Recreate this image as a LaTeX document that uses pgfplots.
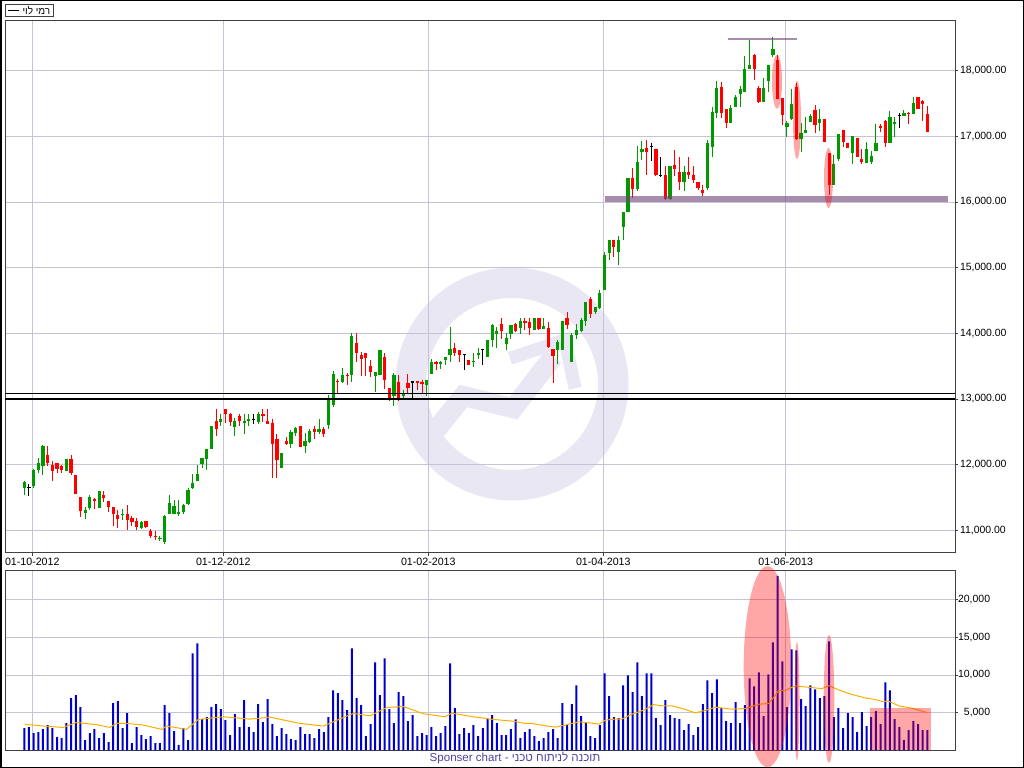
\documentclass[border=0pt]{standalone}
\usepackage{pgfplots}
\pgfplotsset{compat=1.18}
\usepackage{pgfplotstable}
\usepackage{fontspec}
\setmainfont{Liberation Sans}
\newfontfamily\hebfont[Script=Hebrew]{Liberation Sans}
\TeXXeTstate=1
\definecolor{gridc}{RGB}{198,194,216}
\definecolor{framec}{RGB}{64,64,64}
\definecolor{upc}{RGB}{0,153,0}
\definecolor{dnc}{RGB}{255,0,0}
\definecolor{volc}{RGB}{0,0,205}
\definecolor{mac}{RGB}{250,175,0}
\definecolor{wmc}{RGB}{233,231,243}
\definecolor{purp}{RGB}{115,70,120}
\definecolor{txtc}{RGB}{80,64,160}

\pgfplotstableread{
i o h l c
0 11651 11744 11538 11728
1 11651 11703 11528 11651
2 11677 11933 11651 11923
3 11913 12097 11872 12020
4 11974 12297 11836 12282
5 12154 12282 11974 12026
6 12000 12051 11744 11897
7 12026 12026 11872 11938
8 11974 12000 11872 11913
9 11908 12087 11908 12087
10 12092 12154 11836 11872
11 11841 11841 11549 11549
12 11503 11503 11205 11297
13 11256 11359 11179 11308
14 11344 11538 11308 11503
15 11477 11497 11328 11451
16 11344 11600 11344 11600
17 11538 11600 11431 11497
18 11446 11446 11282 11349
19 11354 11354 11067 11251
20 11236 11313 11036 11174
21 11231 11318 11154 11251
22 11246 11379 11010 11154
23 11185 11220 11062 11123
24 11144 11180 11010 11051
25 11036 11144 11021 11123
26 11138 11138 11036 11051
27 10990 11015 10882 10908
28 10918 10985 10846 10908
29 10877 10918 10831 10882
30 10821 11231 10785 11215
31 11251 11538 11251 11420
32 11251 11462 11246 11369
33 11251 11462 11215 11282
34 11282 11400 11250 11380
35 11400 11640 11380 11620
36 11650 11853 11624 11716
37 11751 11990 11751 11853
38 12015 12096 11954 12096
39 12081 12239 11919 12239
40 12244 12584 12234 12584
41 12660 12853 12437 12538
42 12650 12777 12589 12690
43 12853 12853 12640 12777
44 12777 12792 12589 12650
45 12574 12716 12437 12665
46 12736 12777 12589 12660
47 12635 12777 12462 12665
48 12660 12777 12589 12690
49 12690 12766 12624 12690
50 12650 12807 12624 12766
51 12766 12853 12650 12741
52 12660 12853 12624 12624
53 12635 12700 11797 12320
54 12386 12462 11797 12071
55 11949 12173 11949 12173
56 12355 12426 12294 12320
57 12310 12523 12249 12497
58 12487 12574 12437 12558
59 12584 12584 12274 12274
60 12284 12477 12183 12360
61 12345 12538 12335 12513
62 12548 12589 12386 12497
63 12497 12690 12462 12538
64 12538 12574 12426 12462
65 12610 13060 12540 12985
66 12914 13419 12880 13384
67 13268 13300 13091 13253
68 13253 13470 13242 13369
69 13369 13394 13207 13343
70 13359 14000 13253 13960
71 13848 14000 13556 13707
72 13672 13722 13343 13611
73 13697 13697 13354 13621
74 13495 13596 13333 13409
75 13354 13409 13101 13409
76 13359 13747 13359 13747
77 13636 13707 13152 13293
78 13167 13167 12965 12980
79 13051 13394 12899 13369
80 13258 13369 12965 12980
81 13045 13141 12990 13081
82 13242 13379 13091 13172
83 13258 13258 13000 13258
84 13268 13278 13141 13242
85 13253 13293 13081 13222
86 13217 13293 13040 13293
87 13384 13606 13384 13556
88 13556 13571 13444 13530
89 13530 13571 13455 13556
90 13586 13646 13520 13646
91 13672 14101 13556 13763
92 13773 13848 13657 13697
93 13747 13747 13556 13672
94 13672 13672 13444 13672
95 13596 13596 13510 13510
96 13556 13697 13485 13571
97 13662 13773 13606 13707
98 13747 13758 13520 13747
99 13646 13899 13646 13899
100 13898 14143 13786 14127
101 13990 14102 13781 14041
102 14137 14239 13908 14036
103 13837 14000 13745 13934
104 13990 14127 13913 14127
105 14137 14163 14015 14036
106 14087 14229 13990 14188
107 14188 14239 14051 14163
108 14168 14229 13975 14087
109 14051 14229 14051 14229
110 14229 14229 14051 14066
111 14066 14229 14066 14112
112 14087 14168 13771 13786
113 13756 13756 13236 13654
114 13745 13898 13532 13863
115 13745 14188 13745 14188
116 14239 14321 14061 14127
117 13567 14000 13567 13975
118 13975 14137 13913 14051
119 14036 14229 14015 14204
120 14193 14473 14117 14473
121 14524 14545 14239 14295
122 14331 14397 14290 14397
123 14382 14662 14372 14611
124 14662 15232 14652 15196
125 15222 15425 15110 15425
126 15425 15425 15155 15308
127 15232 15476 15043 15425
128 15614 15848 15425 15848
129 15843 16364 15843 16364
130 16364 16515 16061 16202
131 16202 16853 16162 16606
132 16753 16929 16641 16803
133 16828 16944 16414 16768
134 16843 16904 16626 16843
135 16808 16808 16389 16414
136 16404 16677 16379 16404
137 16404 16540 16035 16045
138 16045 16540 16025 16540
139 16566 16793 16389 16505
140 16455 16677 16187 16298
141 16298 16540 16162 16455
142 16455 16682 16348 16404
143 16414 16540 16288 16328
144 16303 16303 16187 16212
145 16187 16263 16086 16136
146 16212 16944 16187 16894
147 16843 17449 16692 17374
148 17359 17838 17273 17737
149 17753 17828 17273 17348
150 17409 17409 17121 17197
151 17197 17475 17197 17424
152 17439 17626 17439 17591
153 17641 17763 17439 17717
154 17677 18217 17667 18020
155 18020 18460 18020 18081
156 18242 18258 17854 18030
157 17742 17763 17500 17525
158 17525 17894 17515 17737
159 17838 18091 17677 18081
160 18232 18510 18207 18333
161 18157 18232 17566 17566
162 17576 17576 17172 17323
163 17146 17237 16985 17207
164 17258 17727 17248 17490
165 17753 17818 16944 16955
166 16955 17197 16768 17045
167 17045 17298 17045 17096
168 17222 17333 17212 17308
169 17399 17475 17045 17172
170 17197 17409 17081 17263
171 17263 17263 16919 16919
172 16742 16742 16101 16253
173 16253 16717 16253 16581
174 16657 17035 16616 17035
175 17096 17096 16833 16919
176 16904 16904 16828 16828
177 16742 17005 16576 17005
178 16980 16980 16677 16677
179 16652 16803 16581 16601
180 16591 16909 16591 16808
181 16601 16783 16576 16702
182 16778 17187 16778 16904
183 17162 17187 17061 17121
184 17232 17247 16843 16894
185 16894 17384 16894 17288
186 17182 17298 16995 17222
187 17323 17348 17121 17323
188 17313 17399 17313 17348
189 17348 17374 17187 17333
190 17333 17591 17333 17500
191 17591 17591 17409 17409
192 17540 17551 17237 17490
193 17338 17460 17071 17071
}\candles

\pgfplotstableread{
i v
0 2951
1 3084
2 2290
3 2423
4 2819
5 3348
6 2951
7 1762
8 1630
9 3612
10 6916
11 7312
12 5727
13 1366
14 2290
15 2819
16 1630
17 2290
18 1101
19 6255
20 6519
21 2951
22 4934
23 969
24 3084
25 2026
26 1498
27 1894
28 969
29 969
30 5991
31 4934
32 2555
33 705
34 2951
35 1366
36 12863
37 14184
38 4141
39 4405
40 5727
41 6123
42 5462
43 4009
44 2026
45 4802
46 3084
47 6652
48 3084
49 2423
50 6123
51 3744
52 6784
53 3480
54 1894
55 2951
56 2158
57 1498
58 1366
59 3084
60 2158
61 2158
62 1630
63 2819
64 2423
65 4405
66 7973
67 7577
68 6652
69 5330
70 13523
71 6916
72 5991
73 1894
74 3480
75 11673
76 7312
77 12202
78 5462
79 3612
80 7709
81 7180
82 3876
83 4669
84 1894
85 2290
86 2026
87 3084
88 1894
89 2290
90 3216
91 11541
92 5594
93 2158
94 2951
95 2290
96 3348
97 1894
98 2951
99 4141
100 4669
101 3612
102 2026
103 2026
104 2819
105 4100
106 1630
107 2420
108 2820
109 1890
110 1230
111 1630
112 2420
113 2820
114 1630
115 6250
116 3350
117 6120
118 8630
119 4540
120 3740
121 1890
122 1630
123 3350
124 10220
125 7180
126 4400
127 4270
128 8630
129 9950
130 7710
131 11670
132 7180
133 10220
134 10220
135 4270
136 3350
137 6650
138 4670
139 4270
140 4140
141 2690
142 3480
143 2030
144 3080
145 6120
146 9290
147 7580
148 9430
149 5590
150 3880
151 3610
152 6390
153 3610
154 5990
155 9560
156 8500
157 10350
158 4540
159 10090
160 14320
161 23170
162 11810
163 5730
164 13390
165 13260
166 6780
167 5860
168 8630
169 8100
170 6920
171 7180
172 14450
173 4400
174 5590
175 2950
176 4930
177 4400
178 2420
179 5070
180 3220
181 4400
182 5200
183 3480
184 9030
185 7970
186 4140
187 3080
188 1370
189 2690
190 3880
191 3480
192 2690
193 2690
}\vol

\pgfplotstableread{
i m
0.1 3440
1.9 3350
4.1 3220
8.3 3040
11.2 3700
15.5 3390
18.3 3040
19.7 3570
21.9 3570
25.4 3350
29.4 2780
30.4 3220
34.7 2780
37.2 4100
42.5 4450
48.2 4140
52.5 4400
58.9 3570
63.9 3220
68.9 4540
70.3 4890
73.9 4580
77.5 5680
81.0 5810
85.3 4850
89.9 4450
91.3 4930
96.0 4450
100.2 4100
104.2 3880
107.1 3570
108.5 3570
111.3 3260
113.5 3080
115.6 3350
118.5 3790
120.6 3660
122.8 3480
124.2 4010
126.3 4140
127.7 4140
129.9 4800
132.7 5420
134.5 6080
136.3 5900
138.4 5900
140.6 5550
143.4 4980
145.5 5290
147.7 5730
151.2 5460
154.1 5550
157.0 6120
159.1 6210
160.5 7310
161.2 7930
162.6 7930
164.8 8550
166.9 8410
170.5 8190
171.9 8590
174.1 8020
176.2 7530
178.3 7180
179.7 6960
181.9 6740
183.3 6480
184.7 6520
186.9 5900
189.7 5590
192.9 5020
}\ma

\pgfplotsset{
  chartbase/.style={
    scale only axis, width=950.3bp,
    xmin=-4.12, xmax=198.97,
    axis line style={framec, line width=0.8bp},
    xtick={1.71,42.53,86.34,123.74,162.73},
    grid=major, major grid style={gridc, line width=0.8bp},
    tick align=outside, major tick length=3bp,
    tick style={framec, line width=0.8bp},
    xtick pos=bottom, ytick pos=right, yticklabel pos=right,
    scaled y ticks=false,
    yticklabel style={font=\fontsize{10.5}{12}\selectfont, anchor=west, inner sep=0pt, xshift=1.5bp},
    xticklabel style={font=\fontsize{10.7}{12}\selectfont, anchor=north, inner sep=0pt, yshift=-2.5bp},
  },
  wick/.style={only marks, mark=*, mark size=0pt, mark options={draw=none, fill=none}, forget plot,
    error bars/y dir=minus, error bars/y explicit, error bars/error mark=none,
    error bars/error bar style={line width=1bp, #1}},
  body/.style={only marks, mark=*, mark size=0pt, mark options={draw=none, fill=none}, forget plot,
    error bars/y dir=minus, error bars/y explicit, error bars/error mark=none,
    error bars/error bar style={line width=3.2bp, #1}},
}

\begin{document}
\begin{tikzpicture}
\useasboundingbox (0,0) rectangle (1024bp,768bp);
% watermark logo
\fill[wmc, even odd rule] (512bp,384bp) circle (116.5bp) (512bp,384bp) circle (86bp);
\draw[wmc, line width=20bp] (432bp,333bp) -- (463.3bp,372bp) -- (513.3bp,359.7bp) -- (553.3bp,411.3bp);
\draw[wmc, line width=13bp] (510bp,409.7bp) -- (565bp,428bp) -- (575bp,379.7bp);

\begin{axis}[chartbase,
  at={(5bp,215.3bp)}, anchor=south west, height=532bp,
  ymin=10659, ymax=18760,
  ytick={11000,12000,...,18000},
  xticklabels={01-10-2012,01-12-2012,01-02-2013,01-04-2013,01-06-2013},
  y tick label style={/pgf/number format/.cd, fixed, fixed zerofill, precision=2, 1000 sep={,}, assume math mode=true},
]
% wicks
\addplot[wick=upc, upc, restrict expr to domain={\thisrow{c}-\thisrow{o}}{0.5:100000}]
  table[x=i, y=h, y error minus expr=\thisrow{h}-\thisrow{l}] {\candles};
\addplot[wick=dnc, dnc, restrict expr to domain={\thisrow{c}-\thisrow{o}}{-100000:-0.5}]
  table[x=i, y=h, y error minus expr=\thisrow{h}-\thisrow{l}] {\candles};
\addplot[wick=black, black, restrict expr to domain={\thisrow{c}-\thisrow{o}}{-0.5:0.5}]
  table[x=i, y=h, y error minus expr=\thisrow{h}-\thisrow{l}] {\candles};
% bodies
\addplot[body=upc, upc, restrict expr to domain={\thisrow{c}-\thisrow{o}}{0.5:100000}]
  table[x=i, y=c, y error minus expr=\thisrow{c}-\thisrow{o}] {\candles};
\addplot[body=dnc, dnc, restrict expr to domain={\thisrow{c}-\thisrow{o}}{-100000:-0.5}]
  table[x=i, y=o, y error minus expr=\thisrow{o}-\thisrow{c}] {\candles};
\addplot[body=black, black, restrict expr to domain={\thisrow{c}-\thisrow{o}}{-0.5:0.5}]
  table[x=i, y expr=\thisrow{o}+8, y error minus expr=16] {\candles};
% support / resistance lines
\draw[black, line width=1.1bp] (axis cs:-4.12,13000) -- (axis cs:198.97,13000);
\draw[black, line width=1.1bp] (axis cs:-4.12,13085) -- (axis cs:198.97,13085);
\draw[purp, line width=5.7bp, opacity=0.62] (axis cs:124.1,16040) -- (axis cs:197.35,16040);
\draw[purp, line width=2bp, opacity=0.62] (axis cs:150.4,18477) -- (axis cs:165.1,18477);
\end{axis}

\begin{axis}[chartbase,
  at={(5bp,17.7bp)}, anchor=south west, height=180bp,
  ymin=0, ymax=23900,
  ytick={5000,10000,15000,20000},
  xticklabels={},
  xtick style={draw=none},
  yticklabel style={anchor=east, xshift=30.5bp},
  y tick label style={/pgf/number format/.cd, fixed, precision=0, 1000 sep={,}, assume math mode=true},
]
\addplot[ybar, bar width=2bp, fill=volc, draw=none] table[x=i, y=v] {\vol};
\addplot[mac, line width=1bp] table[x=i, y=m] {\ma};
\end{axis}

% highlight ellipses
\fill[red, fill opacity=0.35] (777bp,686.3bp) ellipse (5bp and 27bp);
\fill[red, fill opacity=0.35] (797bp,648bp) ellipse (4bp and 39bp);
\fill[red, fill opacity=0.35] (828.5bp,590bp) ellipse (4.5bp and 30bp);
\fill[red, fill opacity=0.35] (767.5bp,101.3bp) ellipse (23.8bp and 100.5bp);
\fill[red, fill opacity=0.35] (797bp,67bp) ellipse (2.5bp and 59bp);
\fill[red, fill opacity=0.35] (829bp,69bp) ellipse (5.3bp and 64bp);
\fill[red, fill opacity=0.35] (869.7bp,17.7bp) rectangle (931bp,60.3bp);

% legend
\draw[framec, line width=0.8bp] (5.3bp,751.3bp) rectangle (53.3bp,764bp);
\draw[black, line width=0.8bp] (8bp,757.6bp) -- (18.7bp,757.6bp);
\node[anchor=east, inner sep=0pt, font=\fontsize{10}{12}\selectfont\hebfont] at (50.5bp,757.6bp) {\beginR רמי לוי\endR};

% footer
\node[txtc, inner sep=0pt, font=\fontsize{11.6}{13}\selectfont] at (515bp,10bp) {Sponser chart - {\hebfont\beginR תוכנה לניתוח טכני\endR}};

% outer frame
\draw[black, line width=1.5bp] (0.75bp,0.75bp) rectangle (1023.25bp,767.25bp);
\end{tikzpicture}
\end{document}
